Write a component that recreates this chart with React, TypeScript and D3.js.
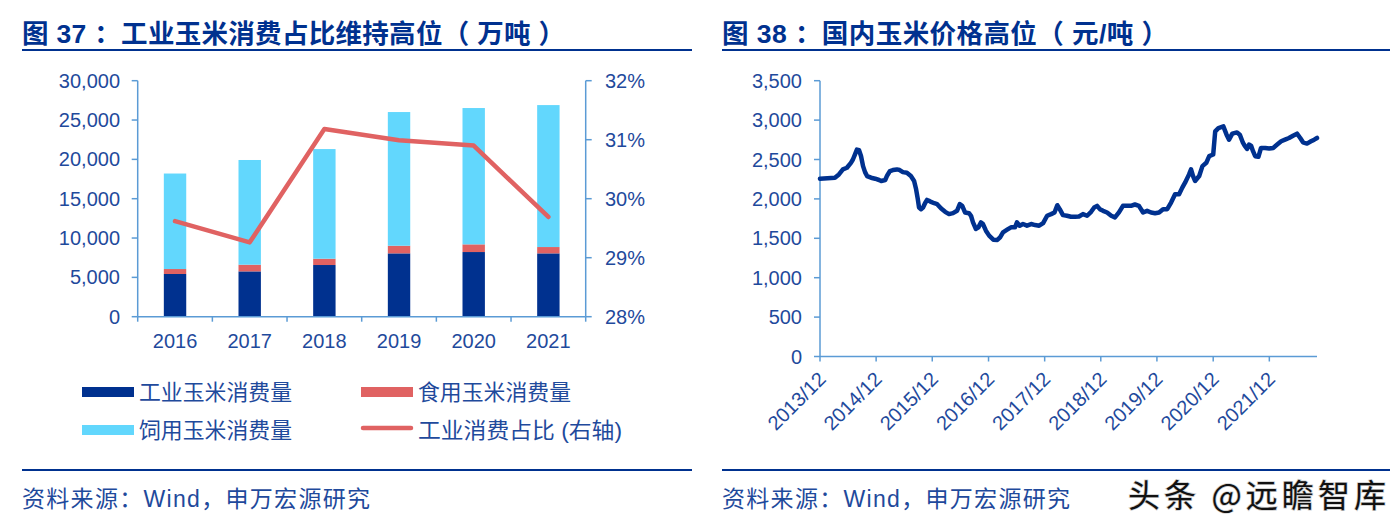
import React from "react";
import * as d3 from "d3";

// ---------- Left chart data (万吨 / %) ----------
const years = ["2016", "2017", "2018", "2019", "2020", "2021"];
const industrialUse = [5430, 5760, 6570, 8050, 8220, 8050];
const foodUse = [630, 850, 800, 970, 975, 805];
const feedUse = [12140, 13310, 13940, 16995, 17330, 18045];
const industrialShare = [0.2962, 0.2926, 0.3118, 0.3099, 0.309, 0.2969];
const leftTicks = [0, 5000, 10000, 15000, 20000, 25000, 30000];
const rightTicks = [0.28, 0.29, 0.3, 0.31, 0.32];

// ---------- Right chart data (元/吨) ----------
const priceDates = [
  "2013-12-01","2014-03-08","2014-04-03","2014-04-29","2014-05-25","2014-06-20","2014-07-03","2014-07-16","2014-07-29","2014-08-12",
  "2014-08-25","2014-09-07","2014-09-20","2014-10-03","2014-10-29","2014-11-25","2014-12-20","2015-01-03","2015-01-29","2015-02-11",
  "2015-03-01","2015-03-20","2015-04-15","2015-05-03","2015-05-24","2015-06-19","2015-07-15","2015-08-05","2015-08-18","2015-08-29",
  "2015-09-06","2015-09-19","2015-10-02","2015-10-15","2015-10-28","2015-11-10","2015-11-23","2015-12-14","2016-01-02","2016-01-28",
  "2016-02-23","2016-03-19","2016-04-14","2016-05-10","2016-05-28","2016-06-13","2016-07-01","2016-07-27","2016-08-09","2016-08-22",
  "2016-09-10","2016-09-26","2016-10-13","2016-10-26","2016-11-14","2016-12-05","2017-01-01","2017-01-27","2017-02-14","2017-03-05",
  "2017-04-01","2017-04-26","2017-05-22","2017-06-04","2017-06-22","2017-07-13","2017-08-08","2017-09-04","2017-09-30","2017-10-26",
  "2017-11-21","2017-12-17","2018-01-12","2018-02-03","2018-02-21","2018-03-09","2018-03-30","2018-04-25","2018-05-21","2018-06-16",
  "2018-07-12","2018-08-07","2018-09-03","2018-09-29","2018-10-19","2018-11-07","2018-11-25","2018-12-16","2019-01-11","2019-02-07",
  "2019-03-03","2019-03-29","2019-04-24","2019-05-20","2019-06-15","2019-07-11","2019-08-06","2019-09-02","2019-09-28","2019-10-24",
  "2019-11-19","2019-12-15","2020-01-10","2020-02-06","2020-03-02","2020-03-28","2020-04-23","2020-05-14","2020-06-01","2020-06-27",
  "2020-07-10","2020-07-23","2020-08-05","2020-09-01","2020-09-22","2020-10-17","2020-11-05","2020-12-01","2020-12-14","2021-01-04",
  "2021-02-05","2021-02-26","2021-03-14","2021-04-04","2021-05-05","2021-05-23","2021-06-13","2021-06-26","2021-07-09","2021-07-22",
  "2021-08-04","2021-08-17","2021-08-31","2021-09-21","2021-10-08","2021-11-04","2021-11-30","2021-12-26","2022-01-21","2022-02-16",
  "2022-03-13","2022-04-08","2022-05-04","2022-05-30","2022-06-20","2022-07-08","2022-08-03","2022-08-29","2022-09-19","2022-10-07",
];
const priceValues = [
  2256, 2269, 2311, 2374, 2395, 2458, 2500, 2563, 2626, 2618,
  2542, 2416, 2340, 2290, 2269, 2256, 2240, 2227, 2240, 2298,
  2353, 2366, 2374, 2366, 2340, 2332, 2290, 2227, 2122, 1996,
  1891, 1870, 1891, 1945, 1987, 1975, 1962, 1945, 1933, 1878,
  1836, 1807, 1819, 1849, 1933, 1912, 1828, 1819, 1786, 1702,
  1618, 1639, 1702, 1681, 1597, 1534, 1483, 1479, 1513, 1576,
  1609, 1639, 1639, 1702, 1660, 1681, 1660, 1681, 1668, 1660,
  1693, 1786, 1807, 1828, 1920, 1870, 1794, 1786, 1773, 1773,
  1777, 1807, 1786, 1836, 1891, 1912, 1870, 1849, 1828, 1786,
  1765, 1828, 1912, 1912, 1912, 1929, 1912, 1828, 1849, 1828,
  1819, 1828, 1870, 1870, 1954, 2059, 2059, 2143, 2206, 2311,
  2374, 2290, 2227, 2290, 2416, 2458, 2542, 2563, 2857, 2899,
  2920, 2815, 2752, 2828, 2844, 2815, 2710, 2668, 2634, 2689,
  2676, 2605, 2542, 2534, 2647, 2647, 2639, 2647, 2689, 2731,
  2752, 2773, 2802, 2828, 2773, 2718, 2702, 2731, 2752, 2773,
];
const priceTicks = [0, 500, 1000, 1500, 2000, 2500, 3000, 3500];
const priceTickYears = [2013, 2014, 2015, 2016, 2017, 2018, 2019, 2020, 2021];

const TEXT = "#1F4A9C";
const AXIS = "#5B9BD5";
const NAVY = "#00318F";
const RED = "#E06262";
const CYAN = "#62D7FD";
const LATIN = "'Liberation Sans', Arial, 'Noto Sans CJK SC', sans-serif";
const CJK = "'Liberation Sans', 'Noto Sans CJK SC', sans-serif";

function LeftChart() {
  const x = d3.scaleBand<string>().domain(years).range([137.7, 585.7]).padding(0);
  const y = d3.scaleLinear().domain([0, 30000]).range([316.7, 80.7]);
  const yr = d3.scaleLinear().domain([0.28, 0.32]).range([316.7, 80.7]);
  const barW = x.bandwidth() * 0.3;
  const rows = years.map((yy, i) => ({ year: yy, ind: industrialUse[i], food: foodUse[i], feed: feedUse[i] }));
  const stack = d3.stack<any>().keys(["ind", "food", "feed"])(rows);
  const colors: Record<string, string> = { ind: NAVY, food: RED, feed: CYAN };
  const line = d3
    .line<number>()
    .x((_, i) => (x(years[i]) as number) + x.bandwidth() / 2)
    .y((d) => yr(d));
  const [x0, x1] = x.range();
  const boundaries = d3.range(years.length + 1).map((i) => x0 + i * x.bandwidth());
  return (
    <g>
      {stack.map((s) => (
        <g key={s.key} fill={colors[s.key]}>
          {s.map((d, i) => (
            <rect
              key={i}
              x={(x(years[i]) as number) + (x.bandwidth() - barW) / 2}
              y={y(d[1])}
              width={barW}
              height={y(d[0]) - y(d[1])}
            />
          ))}
        </g>
      ))}
      {/* left axis */}
      <line x1={x0} x2={x0} y1={y(30000)} y2={y(0)} stroke={AXIS} strokeWidth={1.5} />
      {leftTicks.map((t) => (
        <g key={t}>
          <line x1={x0 - 6} x2={x0} y1={y(t)} y2={y(t)} stroke={AXIS} strokeWidth={1.5} />
          <text x={120} y={y(t)} dy="0.35em" textAnchor="end" fontSize={20} fill={TEXT} fontFamily={LATIN}>
            {d3.format(",")(t)}
          </text>
        </g>
      ))}
      {/* right axis */}
      <line x1={x1} x2={x1} y1={yr(0.32)} y2={yr(0.28)} stroke={AXIS} strokeWidth={1.5} />
      {rightTicks.map((t) => (
        <g key={t}>
          <line x1={x1} x2={x1 + 6} y1={yr(t)} y2={yr(t)} stroke={AXIS} strokeWidth={1.5} />
          <text x={605} y={yr(t)} dy="0.35em" fontSize={20} fill={TEXT} fontFamily={LATIN}>
            {d3.format(".0%")(t)}
          </text>
        </g>
      ))}
      {/* x axis */}
      <line x1={x0} x2={x1} y1={y(0)} y2={y(0)} stroke={AXIS} strokeWidth={1.5} />
      {boundaries.map((b, i) => (
        <line key={i} x1={b} x2={b} y1={y(0)} y2={y(0) + 5} stroke={AXIS} strokeWidth={1.5} />
      ))}
      {years.map((yy) => (
        <text
          key={yy}
          x={(x(yy) as number) + x.bandwidth() / 2}
          y={348}
          textAnchor="middle"
          fontSize={20}
          fill={TEXT}
          fontFamily={LATIN}
        >
          {yy}
        </text>
      ))}
      <path d={line(industrialShare) || ""} fill="none" stroke={RED} strokeWidth={4.5} strokeLinejoin="round" strokeLinecap="round" />
    </g>
  );
}

function Legend() {
  const items = [
    { label: "工业玉米消费量", color: NAVY, kind: "bar", x: 82, y: 392, w: 153 },
    { label: "食用玉米消费量", color: RED, kind: "bar", x: 361, y: 392, w: 153 },
    { label: "饲用玉米消费量", color: CYAN, kind: "bar", x: 82, y: 430, w: 153 },
    { label: "工业消费占比 (右轴)", color: RED, kind: "line", x: 361, y: 430, w: 204 },
  ];
  return (
    <g>
      {items.map((it) => (
        <g key={it.label}>
          {it.kind === "bar" ? (
            <rect x={it.x} y={it.y - 5} width={52} height={10} fill={it.color} />
          ) : (
            <line x1={it.x + 2} x2={it.x + 50} y1={it.y - 2} y2={it.y - 2} stroke={it.color} strokeWidth={4.5} strokeLinecap="round" />
          )}
          <text x={it.x + 57} y={it.y} dy="0.35em" fontSize={21.5} fill={TEXT} fontFamily={CJK}
            textLength={it.w} lengthAdjust="spacingAndGlyphs">
            {it.label}
          </text>
        </g>
      ))}
    </g>
  );
}

function RightChart() {
  const dates = priceDates.map((s) => new Date(s + "T00:00:00"));
  const x = d3.scaleTime().domain([new Date("2013-12-01T00:00:00"), new Date("2022-10-07T00:00:00")]).range([820, 1317]);
  const y = d3.scaleLinear().domain([0, 3500]).range([356.5, 80.7]);
  const line = d3
    .line<number>()
    .x((_, i) => x(dates[i]))
    .y((d) => y(d))
    .curve(d3.curveLinear);
  const axisY = y(0);
  return (
    <g>
      <line x1={820} x2={820} y1={y(3500)} y2={axisY} stroke={AXIS} strokeWidth={1.5} />
      {priceTicks.map((t) => (
        <g key={t}>
          <line x1={814} x2={820} y1={y(t)} y2={y(t)} stroke={AXIS} strokeWidth={1.5} />
          <text x={802} y={y(t)} dy="0.35em" textAnchor="end" fontSize={20} fill={TEXT} fontFamily={LATIN}>
            {d3.format(",")(t)}
          </text>
        </g>
      ))}
      <line x1={820} x2={1317} y1={axisY} y2={axisY} stroke={AXIS} strokeWidth={1.5} />
      {priceTickYears.map((yr) => {
        const tx = x(new Date(`${yr}-12-01T00:00:00`));
        return (
          <g key={yr}>
            <line x1={tx} x2={tx} y1={axisY} y2={axisY + 5} stroke={AXIS} strokeWidth={1.5} />
            <text
              transform={`translate(${tx + 7},${axisY + 24}) rotate(-45)`}
              textAnchor="end"
              fontSize={20}
              fill={TEXT}
              fontFamily={LATIN}
            >
              {`${yr}/12`}
            </text>
          </g>
        );
      })}
      <path d={line(priceValues) || ""} fill="none" stroke={NAVY} strokeWidth={4.5} strokeLinejoin="round" strokeLinecap="round" />
    </g>
  );
}

export default function App() {
  return (
    <svg width={1396} height={523} style={{ display: "block", position: "absolute", left: 0, top: 0, background: "#fff" }}>
      <rect width={1396} height={523} fill="#fff" />
      {/* titles */}
      <text x={22} y={43} fontSize={26.5} fontWeight={700} fill={NAVY} fontFamily={CJK} textLength={543} lengthAdjust="spacing">
        图 37 ：工业玉米消费占比维持高位（ 万吨 ）
      </text>
      <text x={722} y={43} fontSize={26.5} fontWeight={700} fill={NAVY} fontFamily={CJK} textLength={446} lengthAdjust="spacing">
        图 38 ：国内玉米价格高位（ 元/吨 ）
      </text>
      <line x1={22} x2={692} y1={50} y2={50} stroke={NAVY} strokeWidth={2} />
      <line x1={722} x2={1390} y1={50} y2={50} stroke={NAVY} strokeWidth={2} />

      <LeftChart />
      <Legend />
      <RightChart />

      <line x1={22} x2={692} y1={470} y2={470} stroke={NAVY} strokeWidth={2} />
      <line x1={722} x2={1390} y1={470} y2={470} stroke={NAVY} strokeWidth={2} />
      <text x={22} y={499} dy="0.35em" fontSize={23} fill={TEXT} fontFamily={CJK} textLength={348} lengthAdjust="spacing">
        资料来源：Wind，申万宏源研究
      </text>
      <text x={722} y={499} dy="0.35em" fontSize={23} fill={TEXT} fontFamily={CJK} textLength={348} lengthAdjust="spacing">
        资料来源：Wind，申万宏源研究
      </text>
      <text x={1128} y={496} dy="0.35em" fontSize={32} fill="#111" fontFamily="'Noto Sans CJK SC', sans-serif"
        style={{ paintOrder: "stroke" }} stroke="#cfcfcf" strokeWidth={1.5} textLength={258} lengthAdjust="spacing">
        头条 @远瞻智库
      </text>
    </svg>
  );
}
